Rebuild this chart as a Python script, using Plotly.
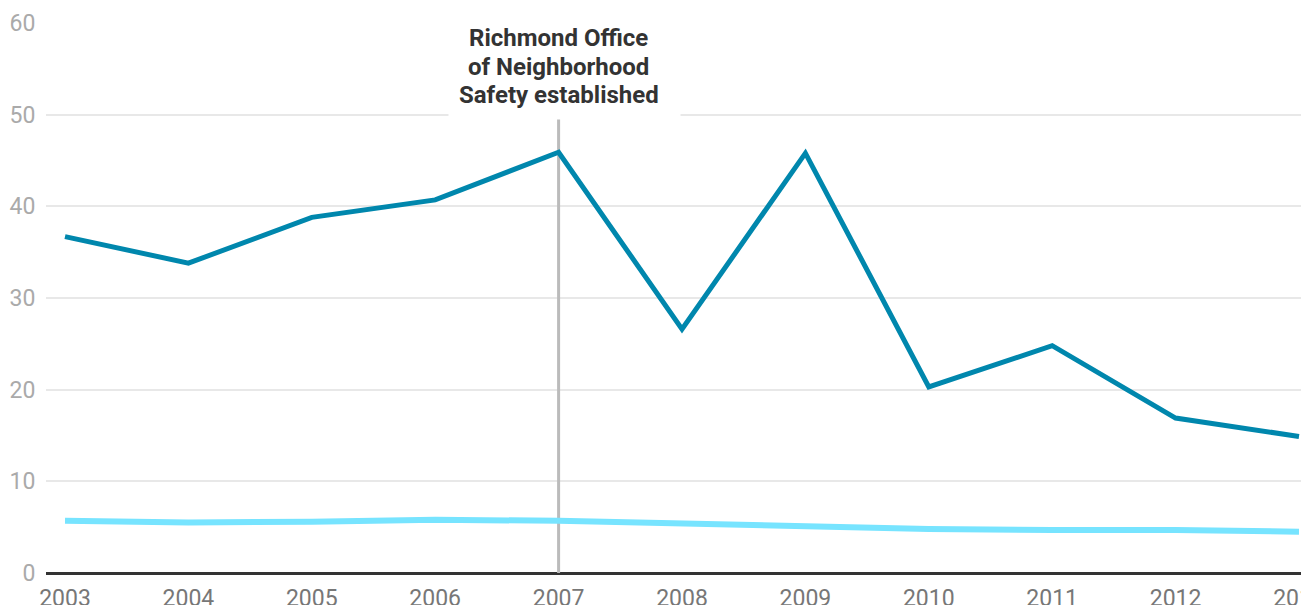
import plotly.graph_objects as go

years = [2003, 2004, 2005, 2006, 2007, 2008, 2009, 2010, 2011, 2012, 2013]
richmond = [36.7, 33.8, 38.8, 40.7, 45.9, 26.6, 45.8, 20.3, 24.8, 16.9, 14.9]
state = [5.7, 5.5, 5.6, 5.8, 5.7, 5.4, 5.0, 4.8, 4.7, 4.7, 4.5]
y_ticks = [0, 10, 20, 30, 40, 50, 60]
event_year = 2007
event_lines = ["Richmond Office", "of Neighborhood", "Safety established"]

W, H = 1301, 605
ML, MR, MT, MB = 46, 0, 23, 32
PX_PER_YEAR = 123.4
X0_PX = 65  # pixel of first year
plot_w = W - ML - MR
x_start = years[0] - (X0_PX - ML) / PX_PER_YEAR
x_end = x_start + plot_w / PX_PER_YEAR

fig = go.Figure()
fig.add_trace(go.Scatter(x=years, y=state, mode="lines",
                         line=dict(color="#77E4FF", width=6), hoverinfo="skip"))
fig.add_trace(go.Scatter(x=years, y=richmond, mode="lines",
                         line=dict(color="#0087AD", width=5), hoverinfo="skip"))

fig.add_shape(type="line", x0=event_year, x1=event_year, y0=0, y1=60,
              line=dict(color="#BBBBBB", width=3), layer="between")

# white label box (offset slightly right of the text as in the reference)
fig.add_annotation(x=event_year, xref="x", y=1.0 - (68.5 - MT) / (H - MT - MB), yref="paper",
                   xanchor="center", yanchor="middle",
                   text=" ", showarrow=False, bgcolor="white",
                   width=231, height=101, xshift=6, borderpad=0)
line_px = [38, 67, 95]
for txt, py in zip(event_lines, line_px):
    fig.add_annotation(x=event_year, xref="x", y=1.0 - (py - MT) / (H - MT - MB), yref="paper",
                       text=txt, showarrow=False, xanchor="center", yanchor="middle",
                       font=dict(family="Roboto", size=24, color="#333333", weight="bold"))

fig.update_layout(
    width=W, height=H,
    margin=dict(l=ML, r=MR, t=MT, b=MB),
    paper_bgcolor="white", plot_bgcolor="white",
    showlegend=False,
    font=dict(family="Roboto"),
    xaxis=dict(range=[x_start, x_end], tickvals=years,
               showgrid=False, zeroline=False, showline=False, automargin=False,
               ticks="outside", ticklen=4, tickcolor="rgba(0,0,0,0)",
               ticklabeloverflow="allow",
               tickfont=dict(size=23, color="#777777")),
    yaxis=dict(range=[0, 60], tickvals=y_ticks, showgrid=True, automargin=False,
               gridcolor="#E8E8E8", gridwidth=2,
               zeroline=True, zerolinecolor="#333333", zerolinewidth=3,
               showline=False, ticks="outside", ticklen=5, tickcolor="rgba(0,0,0,0)",
               tickfont=dict(size=23, color="#AAAAAA")),
)
fig.write_html("out.html", config={"displayModeBar": False},
               post_script="document.body.style.margin='0';document.body.style.overflow='hidden';")
